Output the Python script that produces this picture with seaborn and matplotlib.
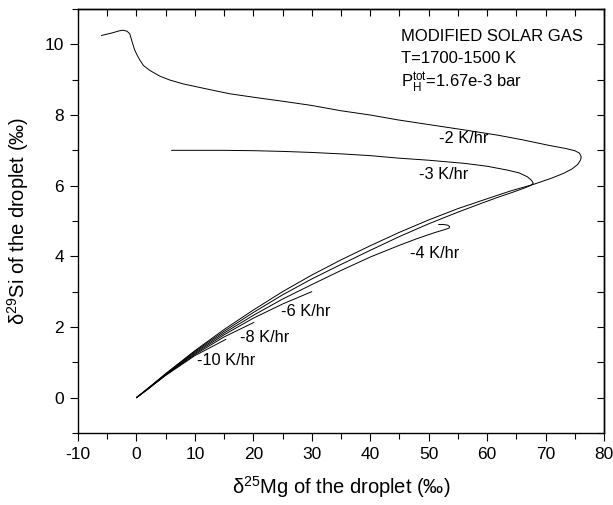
import numpy as np
import pandas as pd
import matplotlib.pyplot as plt
import seaborn as sns
from matplotlib.ticker import MultipleLocator

# curves (d25Mg, d29Si), in the order they are traced
mg_2 = [0, 2, 5, 10, 15, 20, 25, 30, 35, 40, 45, 50, 55, 60, 64, 68, 71, 73.1, 74.5, 75.5, 76.0,
        76.1, 75.8, 75.0, 73.5, 70.3, 66, 61.8, 56, 50, 44.8, 40, 35, 30, 25, 21, 16, 12.5, 8,
        5.7, 4, 2.3, 1.2, 0.6, 0.1, -0.3, -0.7, -1.15, -1.6, -2.3, -3, -4, -6]
si_2 = [0, 0.27, 0.68, 1.33, 1.93, 2.48, 3.0, 3.47, 3.9, 4.3, 4.68, 5.03, 5.35, 5.63, 5.85, 6.04, 6.21, 6.35, 6.47, 6.6, 6.73,
        6.82, 6.92, 6.99, 7.05, 7.15, 7.3, 7.43, 7.58, 7.73, 7.86, 8.0, 8.12, 8.27, 8.39, 8.48, 8.6, 8.72, 8.88,
        8.99, 9.1, 9.26, 9.4, 9.55, 9.7, 9.84, 10.05, 10.3, 10.37, 10.4, 10.38, 10.33, 10.25]

mg_3 = [0, 2, 5, 10, 15, 20, 25, 30, 35, 40, 45, 50, 55, 59, 62, 64.5, 66.5, 67.5, 67.9,
        67.6, 66.9, 65.5, 63.5, 60, 56.2, 50, 44.8, 40, 35, 30, 25, 20, 15, 10, 6]
si_3 = [0, 0.26, 0.67, 1.31, 1.88, 2.41, 2.91, 3.36, 3.77, 4.17, 4.56, 4.92, 5.25, 5.5, 5.68, 5.82, 5.94, 6.01, 6.07,
        6.15, 6.25, 6.36, 6.44, 6.55, 6.63, 6.72, 6.78, 6.85, 6.9, 6.94, 6.97, 6.99, 7.0, 7.0, 7.0]

mg_4 = [0, 2, 5, 10, 15, 20, 25, 30, 35, 40, 44.8, 48, 51, 52.8, 53.5, 53.6, 53.3, 52.6, 51.7]
si_4 = [0, 0.26, 0.66, 1.28, 1.83, 2.33, 2.79, 3.2, 3.6, 3.98, 4.3, 4.5, 4.67, 4.76, 4.8, 4.84, 4.88, 4.9, 4.9]

mg_6 = [0, 2, 5, 10, 15, 20, 25, 30]
si_6 = [0, 0.25, 0.65, 1.25, 1.78, 2.25, 2.65, 3.0]

mg_8 = [0, 2, 5, 10, 15, 20.1]
si_8 = [0, 0.25, 0.64, 1.22, 1.72, 2.13]

mg_10 = [0, 2, 5, 10, 15.3]
si_10 = [0, 0.25, 0.63, 1.19, 1.65]

curves = [(mg_2, si_2), (mg_3, si_3), (mg_4, si_4), (mg_6, si_6), (mg_8, si_8), (mg_10, si_10)]

rate_labels = ['-2 K/hr', '-3 K/hr', '-4 K/hr', '-6 K/hr', '-8 K/hr', '-10 K/hr']
label_x = [56.0, 52.5, 51.1, 29.0, 22.0, 15.3]
label_y = [7.34, 6.33, 4.07, 2.45, 1.71, 1.04]

sns.set_style('ticks')
plt.rcParams['font.family'] = ['Liberation Sans', 'DejaVu Sans']
plt.rcParams['mathtext.fontset'] = 'custom'
plt.rcParams['mathtext.rm'] = 'Liberation Sans'
plt.rcParams['mathtext.it'] = 'Liberation Sans:italic'
plt.rcParams['axes.linewidth'] = 1.0
plt.rcParams['axes.unicode_minus'] = False
for key in ['text.color', 'axes.labelcolor', 'xtick.color', 'ytick.color', 'axes.edgecolor']:
    plt.rcParams[key] = 'black'

fig = plt.figure(figsize=(6.13, 5.05), dpi=100)
ax = fig.add_axes([78 / 613, 1 - 433 / 505, (604 - 78) / 613, (433 - 9) / 505])

for xs, ys in curves:
    sns.lineplot(x=xs, y=ys, sort=False, estimator=None, color='black', lw=0.7, ax=ax)

for lab, lx, ly in zip(rate_labels, label_x, label_y):
    ax.text(lx, ly, lab, fontsize=11.8, ha='center', va='center')

ax.text(45.3, 10.1, 'MODIFIED SOLAR GAS', fontsize=12, ha='left', va='baseline')
ax.text(45.3, 9.47, 'T=1700-1500 K', fontsize=12, ha='left', va='baseline')
ax.text(45.3, 8.77, r'P$_\mathrm{H}^\mathrm{tot}$=1.67e-3 bar', fontsize=12, ha='left', va='baseline')

ax.set_xlim(-10, 80)
ax.set_ylim(-1, 11)
ax.set_xticks(np.arange(-10, 81, 10))
ax.set_yticks(np.arange(0, 11, 2))
ax.xaxis.set_minor_locator(MultipleLocator(5))
ax.yaxis.set_minor_locator(MultipleLocator(1))
ax.tick_params(which='major', direction='out', length=6, width=0.8, labelsize=12.5, pad=4)
ax.tick_params(which='minor', direction='out', length=4, width=0.8)

top = ax.secondary_xaxis('top')
top.set_xticks(np.arange(-10, 81, 5))
top.set_xticklabels([])
top.tick_params(direction='in', length=5, width=0.8)
right = ax.secondary_yaxis('right')
right.set_yticks(np.arange(-1, 12, 1))
right.set_yticklabels([])
right.tick_params(direction='in', length=5, width=0.8)

ax.set_xlabel('δ$^{25}$Mg of the droplet (‰)', fontsize=14.5, labelpad=9)
ax.set_ylabel('δ$^{29}$Si of the droplet (‰)', fontsize=14.5, labelpad=10)

fig.savefig('out.png', dpi=100)
